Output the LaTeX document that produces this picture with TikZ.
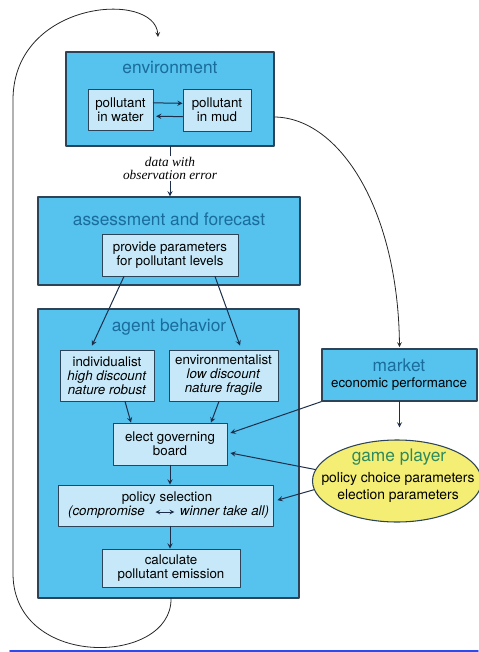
\documentclass[tikz,border=0pt]{standalone}
\usepackage{fontspec}
\setmainfont{TeX Gyre Heros}
\newfontfamily\serifit{Liberation Serif}
\usetikzlibrary{arrows,shapes.geometric}

\definecolor{outerblue}{HTML}{56C2EE}
\definecolor{innerblue}{HTML}{C6E8F8}
\definecolor{titleblue}{HTML}{1A6C9C}
\definecolor{edgegray}{HTML}{2D4458}
\definecolor{arrowblue}{HTML}{1C2E4A}
\definecolor{gamegreen}{HTML}{2E8A5C}
\definecolor{gameyellow}{HTML}{F4EE74}
\definecolor{linkblue}{HTML}{2B4BF0}

\begin{document}
\begin{tikzpicture}[x=0.75pt, y=-0.75pt, line cap=round, line join=round, >=stealth,
    outerbox/.style={draw=edgegray, fill=outerblue, line width=0.9pt, inner sep=0pt},
    innerbox/.style={draw=edgegray, fill=innerblue, line width=0.6pt, inner sep=0pt, align=center, font=\fontsize{10}{10.5}\selectfont},
    boxtitle/.style={text=titleblue, inner sep=1pt, font=\fontsize{13}{15}\selectfont},
    plaintext/.style={inner sep=1pt, font=\fontsize{10}{10.5}\selectfont},
    flow/.style={->, draw=arrowblue, line width=0.75pt},
    loopline/.style={->, draw=black!85, line width=0.6pt}]
  \useasboundingbox (0,0) rectangle (478,652);

  \node[outerbox, minimum width=156pt, minimum height=70.5pt] (env) at (170,99) {};
  \node[boxtitle] (envtitle) at (170,68) {environment};
  \node[innerbox, minimum width=48.75pt, minimum height=30.75pt] (water) at (120.5,109.5) {pollutant\\in water};
  \node[innerbox, minimum width=51pt, minimum height=31.5pt] (mud) at (217,110) {pollutant\\in mud};
  \draw[flow] ([yshift=5pt]water.east) -- ([yshift=5pt]mud.west);
  \draw[flow, shorten >=2pt] ([yshift=-5pt]mud.west) -- ([yshift=-5pt]water.east);

  \node[inner sep=1pt, align=center, font=\serifit\itshape\fontsize{10}{9.75}\selectfont] (data) at (170,168.5) {data with\\observation error};
  \draw[flow, -] (env.south) -- (data.north);

  \node[outerbox, minimum width=196.5pt, minimum height=66pt] (assess) at (169,241) {};
  \node[boxtitle] (assesstitle) at (169,219) {assessment and forecast};
  \node[innerbox, minimum width=102pt, minimum height=31.5pt] (provide) at (170,255) {provide parameters\\for pollutant levels};
  \draw[flow] (data.south) -- (data.south |- assess.north);

  \node[outerbox, minimum width=195.75pt, minimum height=216.75pt] (agent) at (168.5,453.5) {};
  \node[boxtitle] (agenttitle) at (169,327) {agent behavior};
  \node[innerbox, minimum width=70.5pt, minimum height=38.25pt] (indiv) at (107,375.5) {individualist\\\textit{high discount}\\\textit{nature robust}};
  \node[innerbox, minimum width=81.75pt, minimum height=38.25pt] (envist) at (223.5,375.5) {environmentalist\\\textit{low discount}\\\textit{nature fragile}};
  \draw[flow] ([xshift=-34.5pt]provide.south) -- ([xshift=-11.25pt, yshift=3pt]indiv.north);
  \draw[flow] ([xshift=33.75pt]provide.south) -- ([xshift=12.4pt, yshift=3pt]envist.north);

  \node[innerbox, minimum width=85.5pt, minimum height=31.5pt] (elect) at (170,444) {elect governing\\board};
  \draw[flow] ([xshift=13.5pt]indiv.south) -- ([xshift=-29.25pt]elect.north);
  \draw[flow] ([xshift=-3.4pt]envist.south) -- ([xshift=30.75pt]elect.north);

  \node[innerbox, minimum width=161.25pt, minimum height=30.75pt] (policy) at (165.5,505.5) {};
  \node[plaintext] (policytitle) at (167,498) {policy selection};
  \node[plaintext, font=\fontsize{10}{10.5}\selectfont\itshape] (compro) at (106.5,512) {(compromise};
  \node[plaintext, font=\fontsize{10}{10.5}\selectfont\itshape] (winner) at (224.5,512) {winner take all)};
  \draw[flow, <->, line width=0.6pt, shorten <=6.75pt, shorten >=3pt] (compro.east) -- (winner.west);
  \draw[flow] (elect.south) -- (elect.south |- policy.north);

  \node[innerbox, minimum width=103.5pt, minimum height=28.5pt] (calc) at (171,568) {calculate\\pollutant emission};
  \draw[flow] (elect.south |- policy.south) -- (elect.south |- calc.north);

  \node[outerbox, minimum width=116.25pt, minimum height=39pt] (market) at (399.5,375) {};
  \node[boxtitle] (markettitle) at (399,365) {market};
  \node[plaintext] (markettext) at (399,384) {economic performance};

  \node[ellipse, draw=edgegray, fill=gameyellow, line width=0.8pt, inner sep=0pt, minimum width=126.75pt, minimum height=61.5pt] (game) at (397,481) {};
  \node[boxtitle, text=gamegreen] (gametitle) at (399,457) {game player};
  \node[inner sep=1pt, align=center, font=\fontsize{10.4}{12.75}\selectfont] (gametext) at (398,487) {policy choice parameters\\election parameters};

  \draw[flow] (market.south) -- ([yshift=9pt]market.south |- game.north);
  \draw[flow] (market.south west) -- ([xshift=2.25pt, yshift=8.25pt]elect.east);
  \draw[flow] (game.172) -- ([xshift=2.25pt, yshift=-6.75pt]elect.east);
  \draw[flow] (game.186) -- ([xshift=3pt, yshift=4pt]policy.east);

  \draw[loopline, shorten >=1pt] ([yshift=-13.5pt]env.east) .. controls (340,118) and (398,210) .. (market.north);
  \coordinate (envin) at (158,37);
  \draw[loopline] (calc.south |- agent.south) .. controls (172,665) and (15,670) .. (13,575) -- (13,100) .. controls (13,0) and (155,-10) .. (envin);

  \draw[linkblue, line width=1.2pt] (10,651) -- (478,651);
\end{tikzpicture}
\end{document}
